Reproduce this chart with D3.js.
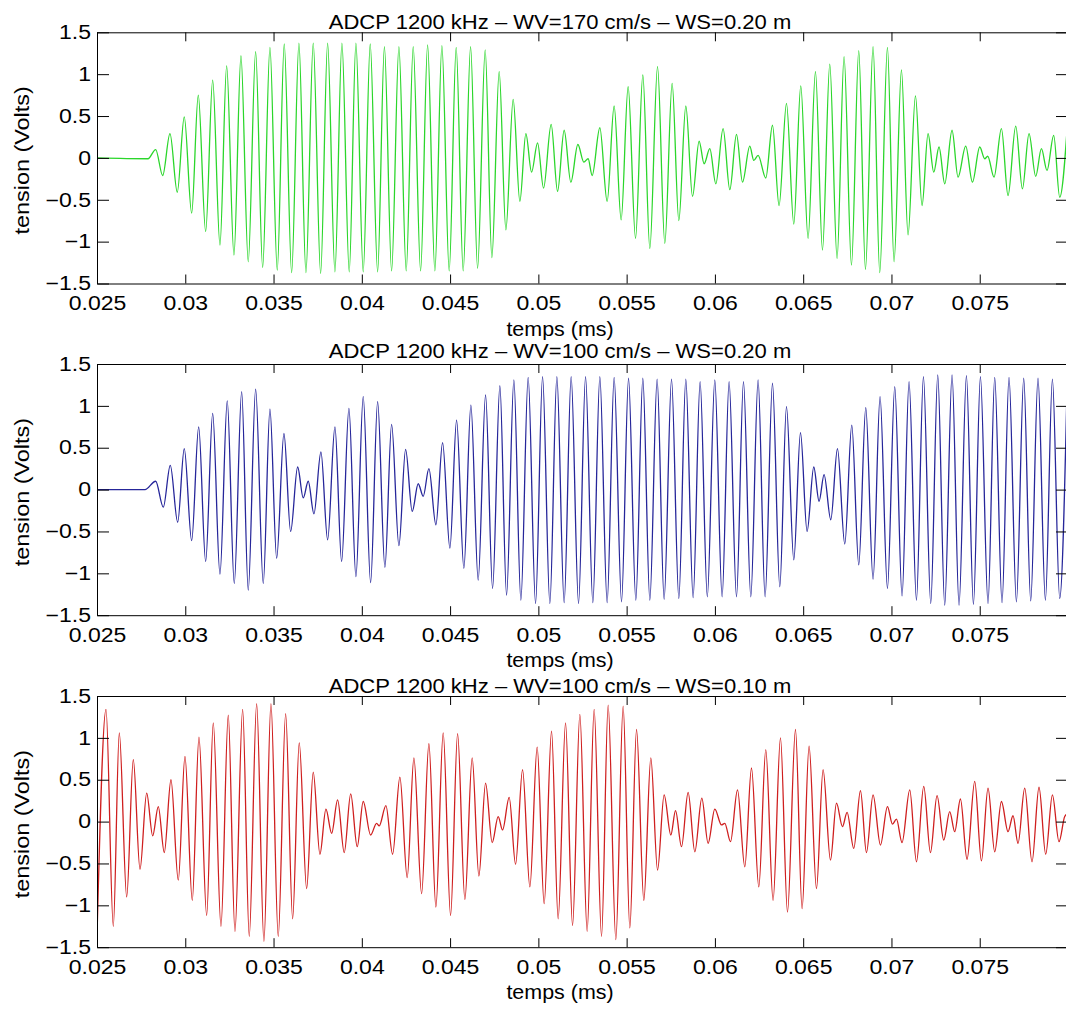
<!DOCTYPE html>
<html><head><meta charset="utf-8">
<script src="https://cdn.jsdelivr.net/npm/d3@7"></script>
<style>
body{margin:0;background:#fff;}
svg{display:block;font-family:"Liberation Sans",Arial,Helvetica,sans-serif;}
</style></head><body>
<svg id="chart" width="1066" height="1015"></svg>
<script>
// ---------------- data ----------------
const titles = [
  "ADCP 1200 kHz \u2013 WV=170 cm/s \u2013 WS=0.20 m",
  "ADCP 1200 kHz \u2013 WV=100 cm/s \u2013 WS=0.20 m",
  "ADCP 1200 kHz \u2013 WV=100 cm/s \u2013 WS=0.10 m"
];
const xLabel = "temps (ms)";
const yLabel = "tension (Volts)";
const xTickValues = [0.025, 0.03, 0.035, 0.04, 0.045, 0.05, 0.055, 0.06, 0.065, 0.07, 0.075];
const xTickLabels = ["0.025","0.03","0.035","0.04","0.045","0.05","0.055","0.06","0.065","0.07","0.075"];
const yTickValues = [-1.5, -1, -0.5, 0, 0.5, 1, 1.5];
const yTickLabels = ["\u22121.5","\u22121","\u22120.5","0","0.5","1","1.5"];
const lineColors = ["#2bd62b", "#26269a", "#cf1f1f"];

// panel 1 (green) : extrema of the signal, time in ms / tension in V
const timeA = [0.025000,0.027888,0.028324,0.028720,0.029134,0.029547,0.029943,0.030362,0.030736,0.031155,
0.031552,0.031965,0.032344,0.032758,0.033154,0.033567,0.033986,0.034383,0.034796,0.035210,
0.035606,0.036025,0.036438,0.036835,0.037248,0.037667,0.038063,0.038477,0.038873,0.039287,
0.039666,0.040079,0.040476,0.040895,0.041280,0.041687,0.042101,0.042514,0.042911,0.043330,
0.043726,0.044139,0.044536,0.044949,0.045346,0.045742,0.046161,0.046557,0.046988,0.047367,
0.047780,0.048160,0.048573,0.048952,0.049292,0.049615,0.049955,0.050294,0.050725,0.051087,
0.051461,0.051840,0.052237,0.052577,0.052820,0.053047,0.053482,0.053896,0.054292,0.054689,
0.055085,0.055504,0.055917,0.056314,0.056750,0.057163,0.057577,0.057956,0.058352,0.058732,
0.059105,0.059388,0.059711,0.060051,0.060464,0.060844,0.061223,0.061563,0.061976,0.062203,
0.062446,0.062882,0.063261,0.063635,0.064054,0.064468,0.064864,0.065277,0.065696,0.066093,
0.066506,0.066920,0.067316,0.067735,0.068148,0.068528,0.068958,0.069337,0.069773,0.070147,
0.070566,0.070940,0.071359,0.071733,0.072073,0.072395,0.072695,0.073018,0.073432,0.073771,
0.074207,0.074587,0.075000,0.075283,0.075453,0.075810,0.076229,0.076603,0.077039,0.077418,
0.077792,0.078171,0.078494,0.078811,0.079190,0.079530,0.080000];
const voltA = [0,-0.01,0.10,-0.21,0.29,-0.41,0.49,-0.66,0.75,-0.88,
0.93,-1.04,1.10,-1.16,1.22,-1.24,1.27,-1.31,1.32,-1.34,
1.36,-1.37,1.37,-1.37,1.37,-1.38,1.37,-1.36,1.37,-1.36,
1.37,-1.36,1.36,-1.36,1.33,-1.35,1.33,-1.35,1.33,-1.35,
1.35,-1.35,1.34,-1.35,1.32,-1.35,1.33,-1.32,1.29,-1.19,
1.03,-0.86,0.70,-0.52,0.29,-0.17,0.18,-0.36,0.40,-0.40,
0.33,-0.29,0.16,-0.05,-0.01,-0.21,0.36,-0.52,0.62,-0.74,
0.85,-0.96,0.99,-1.08,1.09,-1.02,0.89,-0.75,0.62,-0.46,
0.20,-0.07,0.11,-0.31,0.35,-0.38,0.28,-0.29,0.14,-0.03,
0.03,-0.24,0.39,-0.57,0.65,-0.79,0.86,-0.96,1.03,-1.10,
1.12,-1.20,1.21,-1.28,1.28,-1.33,1.33,-1.37,1.32,-1.24,
1.05,-0.92,0.74,-0.57,0.29,-0.17,0.13,-0.31,0.33,-0.23,
0.14,-0.29,0.13,-0.01,0.02,-0.23,0.35,-0.45,0.38,-0.37,
0.29,-0.22,0.11,-0.15,0.27,-0.47,0.50];

// panel 2 (blue)
const timeB = [0.025000,0.027718,0.028324,0.028754,0.029151,0.029570,0.029943,0.030362,0.030759,0.031155,
0.031552,0.031965,0.032378,0.032775,0.033194,0.033567,0.033986,0.034417,0.034796,0.035176,
0.035589,0.035968,0.036365,0.036682,0.036965,0.037288,0.037684,0.038063,0.038477,0.038856,
0.039270,0.039666,0.040079,0.040498,0.040895,0.041308,0.041687,0.042101,0.042480,0.042854,
0.043194,0.043477,0.043800,0.044196,0.044575,0.044989,0.045368,0.045781,0.046178,0.046591,
0.047010,0.047407,0.047820,0.048199,0.048613,0.049009,0.049422,0.049841,0.050238,0.050651,
0.051048,0.051461,0.051857,0.052276,0.052673,0.053086,0.053482,0.053896,0.054292,0.054711,
0.055108,0.055521,0.055917,0.056314,0.056727,0.057124,0.057543,0.057956,0.058352,0.058766,
0.059162,0.059570,0.059994,0.060408,0.060804,0.061223,0.061619,0.062033,0.062446,0.062843,
0.063261,0.063675,0.064054,0.064468,0.064847,0.065221,0.065600,0.065900,0.066183,0.066563,
0.066942,0.067356,0.067752,0.068148,0.068545,0.068958,0.069355,0.069773,0.070187,0.070600,
0.070997,0.071416,0.071812,0.072225,0.072622,0.073018,0.073432,0.073828,0.074247,0.074643,
0.075040,0.075470,0.075849,0.076263,0.076659,0.077078,0.077492,0.077888,0.078301,0.078720,
0.079117,0.079530,0.079955];
const voltB = [0,0,0.10,-0.21,0.29,-0.39,0.49,-0.61,0.75,-0.86,
0.91,-1.01,1.06,-1.12,1.17,-1.20,1.20,-1.12,0.96,-0.82,
0.67,-0.50,0.27,-0.10,0.10,-0.29,0.45,-0.60,0.75,-0.86,
0.97,-1.04,1.11,-1.11,1.05,-0.93,0.78,-0.67,0.48,-0.26,
0.07,-0.08,0.25,-0.42,0.56,-0.70,0.83,-0.94,1.01,-1.08,
1.13,-1.18,1.24,-1.26,1.31,-1.32,1.34,-1.36,1.35,-1.36,
1.35,-1.35,1.35,-1.36,1.35,-1.35,1.35,-1.35,1.34,-1.34,
1.33,-1.32,1.33,-1.32,1.32,-1.31,1.32,-1.30,1.32,-1.29,
1.29,-1.28,1.31,-1.28,1.29,-1.28,1.29,-1.28,1.31,-1.28,
1.27,-1.16,0.99,-0.84,0.68,-0.50,0.27,-0.14,0.18,-0.36,
0.49,-0.65,0.77,-0.90,0.98,-1.07,1.11,-1.18,1.23,-1.27,
1.29,-1.32,1.35,-1.36,1.37,-1.38,1.37,-1.38,1.36,-1.37,
1.35,-1.36,1.34,-1.35,1.34,-1.34,1.33,-1.33,1.33,-1.32,
1.32,-1.30,1.30];

// panel 3 (red)
const timeC = [0.025000,0.025510,0.025923,0.026263,0.026682,0.027056,0.027435,0.027814,0.028154,0.028471,
0.028811,0.029190,0.029604,0.029983,0.030396,0.030776,0.031212,0.031586,0.032022,0.032435,
0.032814,0.033250,0.033624,0.034043,0.034456,0.034853,0.035266,0.035685,0.036082,0.036455,
0.036874,0.037248,0.037627,0.037967,0.038290,0.038630,0.039004,0.039371,0.039740,0.040079,
0.040498,0.040838,0.040985,0.041365,0.041744,0.042157,0.042571,0.042950,0.043386,0.043800,
0.044196,0.044609,0.045028,0.045425,0.045838,0.046251,0.046631,0.047010,0.047384,0.047724,
0.047973,0.048347,0.048709,0.049105,0.049519,0.049932,0.050328,0.050747,0.051121,0.051540,
0.051937,0.052350,0.052763,0.053160,0.053578,0.053953,0.054389,0.054802,0.055181,0.055561,
0.055974,0.056370,0.056750,0.057124,0.057503,0.057769,0.058109,0.058483,0.058862,0.059258,
0.059615,0.059994,0.060374,0.060561,0.060883,0.061280,0.061693,0.062072,0.062486,0.062882,
0.063295,0.063714,0.064111,0.064564,0.064938,0.065334,0.065753,0.066127,0.066546,0.066886,
0.067225,0.067486,0.067865,0.068245,0.068584,0.068958,0.069377,0.069773,0.070057,0.070283,
0.070600,0.071036,0.071416,0.071829,0.072208,0.072582,0.072961,0.073301,0.073584,0.073907,
0.074281,0.074717,0.075096,0.075470,0.075849,0.076229,0.076603,0.076886,0.077169,0.077548,
0.077962,0.078358,0.078737,0.079117,0.079490,0.079813,0.080000];
const voltC = [-1.37,1.34,-1.25,1.06,-0.90,0.74,-0.57,0.34,-0.17,0.18,
-0.37,0.50,-0.70,0.78,-0.94,1.01,-1.12,1.18,-1.25,1.27,
-1.31,1.34,-1.37,1.41,-1.43,1.41,-1.37,1.29,-1.16,0.94,
-0.80,0.59,-0.39,0.15,-0.14,0.26,-0.37,0.33,-0.30,0.24,
-0.16,-0.02,-0.05,0.19,-0.39,0.53,-0.67,0.76,-0.86,0.93,
-1.02,1.06,-1.12,1.05,-0.93,0.76,-0.65,0.46,-0.25,0.06,
-0.10,0.29,-0.51,0.62,-0.78,0.89,-0.98,1.08,-1.16,1.18,
-1.24,1.28,-1.31,1.34,-1.37,1.39,-1.41,1.38,-1.27,1.10,
-0.94,0.76,-0.58,0.32,-0.16,0.13,-0.30,0.35,-0.36,0.28,
-0.26,0.15,-0.04,-0.02,-0.24,0.38,-0.54,0.64,-0.78,0.86,
-0.94,1.00,-1.08,1.10,-1.04,0.90,-0.80,0.62,-0.46,0.22,
-0.06,0.11,-0.32,0.37,-0.37,0.32,-0.28,0.18,-0.03,0.03,
-0.25,0.38,-0.48,0.42,-0.37,0.31,-0.22,0.12,-0.12,0.27,
-0.45,0.48,-0.47,0.40,-0.36,0.24,-0.12,0.07,-0.26,0.40,
-0.48,0.41,-0.39,0.32,-0.24,0.06,0.10];

const panelTimes = [timeA, timeB, timeC];
const panelVolts = [voltA, voltB, voltC];

// ---------------- layout ----------------
const W = 1066, H = 1015;
const plotLeft = 97, plotRight = 1068;
const panelTops = [32.3, 364, 696];
const panelH = 251.2;
const titleBase = [29, 358, 693];
const fontSize = 19.5;

const svg = d3.select("#chart");
svg.append("rect").attr("width", W).attr("height", H).attr("fill", "#fff");

const x = d3.scaleLinear().domain([0.025, 0.08]).range([plotLeft, plotRight]);

function stretch(sel, k) {
  sel.each(function () {
    const len = this.getComputedTextLength();
    d3.select(this).attr("textLength", len * k).attr("lengthAdjust", "spacingAndGlyphs");
  });
}

panelTops.forEach((top, p) => {
  const bottom = top + panelH;
  const y = d3.scaleLinear().domain([-1.5, 1.5]).range([bottom, top]);
  const g = svg.append("g");

  g.append("clipPath").attr("id", "clip" + p)
    .append("rect").attr("x", plotLeft).attr("y", top).attr("width", plotRight - plotLeft).attr("height", panelH);

  const pts = panelTimes[p].map((t, i) => [t, panelVolts[p][i]]);
  const line = d3.line().x(d => x(d[0])).y(d => y(d[1])).curve(d3.curveMonotoneX);
  g.append("path").attr("d", line(pts))
    .attr("fill", "none").attr("stroke", lineColors[p]).attr("stroke-width", 1.3)
    .attr("stroke-linejoin", "round").attr("clip-path", `url(#clip${p})`);

  // axes (inward ticks on all four sides)
  const axB = g.append("g").attr("transform", `translate(0,${bottom})`)
    .call(d3.axisBottom(x).tickValues(xTickValues).tickFormat((d, i) => xTickLabels[i])
      .tickSizeInner(-9).tickSizeOuter(0).tickPadding(13));
  const axT = g.append("g").attr("transform", `translate(0,${top})`)
    .call(d3.axisTop(x).tickValues(xTickValues).tickFormat("").tickSizeInner(-9).tickSizeOuter(0));
  const axL = g.append("g").attr("transform", `translate(${plotLeft},0)`)
    .call(d3.axisLeft(y).tickValues(yTickValues).tickFormat((d, i) => yTickLabels[i])
      .tickSizeInner(-12).tickSizeOuter(0).tickPadding(6));
  const axR = g.append("g").attr("transform", `translate(${plotRight},0)`)
    .call(d3.axisRight(y).tickValues(yTickValues).tickFormat("").tickSizeInner(-12).tickSizeOuter(0));

  [axB, axT, axL, axR].forEach(a => {
    a.select(".domain").attr("stroke", "#000").attr("stroke-width", 1);
    a.selectAll(".tick line").attr("stroke", "#000").attr("stroke-width", 1);
    a.selectAll("text").attr("font-size", fontSize).attr("fill", "#000")
      .attr("font-family", '"Liberation Sans", Arial, sans-serif');
  });
  stretch(axB.selectAll("text"), 1.18);
  stretch(axL.selectAll("text"), 1.18);

  // title
  const tt = g.append("text").attr("x", 560).attr("y", titleBase[p]).attr("text-anchor", "middle")
    .attr("font-size", fontSize).text(titles[p]);
  stretch(tt, 1.13);

  // x label
  const xl = g.append("text").attr("x", 560).attr("y", bottom + 52).attr("text-anchor", "middle")
    .attr("font-size", fontSize).text(xLabel);
  stretch(xl, 1.1);

  // y label
  const yl = g.append("text").attr("transform", `translate(29,${(top + bottom) / 2 + 2.5}) rotate(-90)`)
    .attr("text-anchor", "middle").attr("font-size", fontSize).text(yLabel);
  stretch(yl, 1.2);
});
</script>
</body></html>
